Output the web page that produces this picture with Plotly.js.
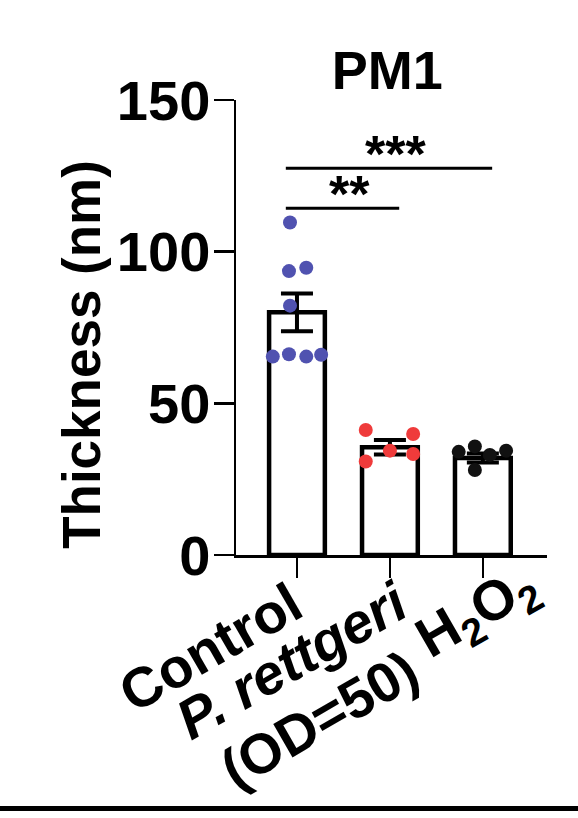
<!DOCTYPE html>
<html>
<head>
<meta charset="utf-8">
<script src="https://cdn.plot.ly/plotly-3.0.1.min.js"></script>
<style>
  html, body { margin: 0; padding: 0; background: #fff; }
  #chart { width: 578px; height: 818px; }
</style>
</head>
<body>
<div id="chart"></div>
<script>
// group labels (one entry per line) and bar summaries (mean +/- SEM)
const groupLines = [['Control'], ['<i>P. rettgeri</i>', '(OD=50)'], ['H<sub>2</sub>O<sub>2</sub>']];
const means = [80.0, 35.5, 32.0];
const sems = [6.2, 2.4, 1.5];

// individual points, with horizontal scatter offsets
const controlPts = [109.6, 93.6, 94.7, 82.2, 65.4, 66.2, 65.4, 66.0];
const controlOff = [-0.075, -0.086, 0.1, -0.075, -0.26, -0.086, 0.1, 0.26];
const rettgeriPts = [41.2, 39.9, 34.4, 33.3, 30.8];
const rettgeriOff = [-0.26, 0.25, 0, 0.25, -0.26];
const h2o2Pts = [35.8, 34.0, 33.0, 34.4, 28.0];
const h2o2Off = [-0.086, -0.26, 0.075, 0.25, -0.086];

const pointColors = ['#5052b0', '#ef3b3b', '#111111'];

// significance brackets: from group, to group, height, label
const sigFrom = [0, 0];
const sigTo = [1, 2];
const sigY = [114.3, 127.5];
const sigText = ['**', '***'];

const font = 'Liberation Sans, Arial, sans-serif';
const idx = groupLines.map((g, i) => i);

const traces = [{
  type: 'bar',
  x: idx,
  y: means,
  width: 0.6,
  marker: { color: '#ffffff', line: { color: '#000', width: 4.5 } },
  error_y: { type: 'data', array: sems, visible: true, color: '#000', thickness: 4, width: 16 },
  hoverinfo: 'skip'
}];

[[controlPts, controlOff], [rettgeriPts, rettgeriOff], [h2o2Pts, h2o2Off]].forEach((p, i) => {
  traces.push({
    type: 'scatter',
    mode: 'markers',
    x: p[1].map(o => i + o),
    y: p[0],
    marker: { color: pointColors[i], size: 14, line: { width: 0 } },
    cliponaxis: false
  });
});

const shapes = sigY.map((y, k) => ({
  type: 'line', xref: 'x', yref: 'y',
  x0: sigFrom[k] - 0.12, x1: sigTo[k] + 0.1, y0: y, y1: y,
  line: { color: '#000', width: 3 }
}));
// rule under the panel
shapes.push({
  type: 'line', xref: 'paper', yref: 'paper',
  x0: -0.76, x1: 1.1, y0: -0.557, y1: -0.557,
  line: { color: '#000', width: 5 }
});

const annotations = sigY.map((y, k) => ({
  xref: 'x', yref: 'y',
  x: (sigFrom[k] - 0.12 + sigTo[k] + 0.1) / 2, y: y,
  text: sigText[k], showarrow: false,
  yanchor: 'bottom', yshift: -17, xshift: 7,
  font: { family: font, size: 52, weight: 'bold', color: '#000' }
}));
annotations.push({
  xref: 'paper', yref: 'paper', x: -0.495, y: 0.44,
  text: 'Thickness (nm)', textangle: -90, showarrow: false,
  xanchor: 'center', yanchor: 'middle',
  font: { family: font, size: 53, weight: 'bold', color: '#000' }
});

// rotated category labels hung under each tick
const labelShift = [[[18, -13]], [[31, -11]], [[71, 7]]];
labelShift[1].push([41, -80]);
groupLines.forEach((lines, i) => {
  lines.forEach((t, j) => {
    annotations.push({
      xref: 'x', yref: 'paper', x: i, y: 0,
      text: t, textangle: -30, showarrow: false,
      xanchor: 'right', yanchor: 'top',
      xshift: labelShift[i][j][0], yshift: labelShift[i][j][1],
      font: { family: font, size: 56, weight: 'bold', color: '#000' }
    });
  });
});

const layout = {
  width: 578, height: 818,
  margin: { l: 236, r: 31, t: 100, b: 263 },
  paper_bgcolor: '#fff', plot_bgcolor: '#fff',
  showlegend: false,
  title: {
    text: 'PM1', x: 0.67, xref: 'container', xanchor: 'center',
    y: 0.914, yref: 'container', yanchor: 'middle',
    font: { family: font, size: 54, weight: 'bold', color: '#000' }
  },
  font: { family: font, color: '#000' },
  xaxis: {
    range: [-0.656, 2.69],
    tickvals: idx, showticklabels: false,
    ticks: 'outside', ticklen: 20, tickwidth: 2.5, tickcolor: '#000',
    showline: true, linecolor: '#000', linewidth: 2.5,
    showgrid: false, zeroline: false, automargin: false
  },
  yaxis: {
    range: [0, 150],
    tickvals: [0, 50, 100, 150],
    ticks: 'outside', ticklen: 20, tickwidth: 2.5, tickcolor: '#000',
    ticklabelstandoff: -8,
    showline: true, linecolor: '#000', linewidth: 2.5,
    showgrid: false, zeroline: false, automargin: false,
    tickfont: { family: font, size: 56, weight: 'bold', color: '#000' }
  },
  shapes: shapes,
  annotations: annotations
};

Plotly.newPlot('chart', traces, layout, { staticPlot: true, displayModeBar: false });
</script>
</body>
</html>
